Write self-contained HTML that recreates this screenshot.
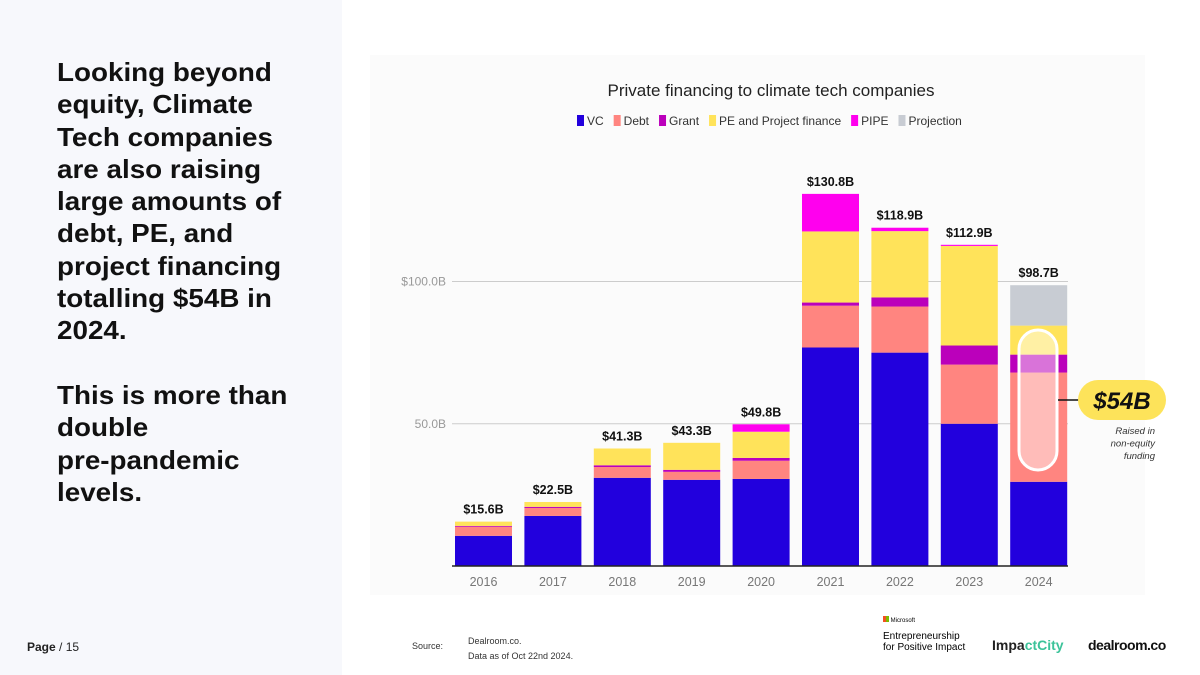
<!DOCTYPE html>
<html><head><meta charset="utf-8"><style>
body{margin:0;width:1200px;height:675px;overflow:hidden;background:#fff;font-family:"Liberation Sans",sans-serif;position:relative}
#left{position:absolute;left:0;top:0;width:342px;height:675px;background:#f7f8fc}
#headline{position:absolute;left:57px;top:56px;font-size:26px;font-weight:bold;line-height:32.3px;color:#111;width:300px;white-space:nowrap;transform:scaleX(1.07);transform-origin:0 0}
#page{position:absolute;left:27px;top:640px;font-size:12px;color:#222}
#panel{position:absolute;left:370px;top:55px;width:775px;height:540px;background:#fbfbfb}
#src{position:absolute;left:412px;top:641px;font-size:9px;color:#333}
#srcv{position:absolute;left:468px;top:634px;font-size:9px;color:#333;line-height:15px}
.logo{position:absolute;font-weight:bold}
</style></head><body>
<div id="left"></div>
<div id="headline">Looking beyond<br>equity, Climate<br>Tech companies<br>are also raising<br>large amounts of<br>debt, PE, and<br>project financing<br>totalling $54B in<br>2024.<br><br>This is more than<br>double<br>pre-pandemic<br>levels.</div>
<div id="page"><b>Page</b> / 15</div>
<div id="panel"></div>
<svg id="chart" width="1200" height="675" style="position:absolute;left:0;top:0"></svg>
<div id="src">Source:</div>
<div id="srcv">Dealroom.co.<br>Data as of Oct 22nd 2024.</div>
<div class="logo" style="left:883px;top:616px;font-size:6px;font-weight:normal"><span style="display:inline-block;width:6px;height:6px;background:linear-gradient(90deg,#f25022 50%,#7fba00 50%)"></span> Microsoft</div>
<div class="logo" style="left:883px;top:631px;font-size:10px;font-weight:normal;line-height:11px">Entrepreneurship<br>for Positive Impact</div>
<div class="logo" style="left:992px;top:637px;font-size:14px;color:#222">Impa<span style="color:#3cc39a">ctCity</span></div>
<div class="logo" style="left:1088px;top:637px;font-size:14px;color:#111;letter-spacing:-0.5px">dealroom.co</div>
<script>
const years=["2016","2017","2018","2019","2020","2021","2022","2023","2024"];
const vc=[10.6,17.6,31,30.3,30.6,76.8,75,50,29.6];
const debt=[3.2,2.8,3.8,2.8,6.4,14.7,16.2,20.8,38.4];
const grant=[0.3,0.4,0.6,0.7,1.0,1.1,3.2,6.7,6.3];
const pe=[1.5,1.7,5.9,9.5,9.2,25,23.3,35,10.2];
const pipe=[0,0,0,0,2.6,13.2,1.2,0.4,0];
const projection=[0,0,0,0,0,0,0,0,14.2];
const totals=["$15.6B","$22.5B","$41.3B","$43.3B","$49.8B","$130.8B","$118.9B","$112.9B","$98.7B"];
const ticks=[50,100];
const tickLabels=["50.0B","$100.0B"];
const series=[["VC",vc,"#2200dd"],["Debt",debt,"#ff8580"],["Grant",grant,"#bb00bb"],["PE and Project finance",pe,"#ffe35a"],["PIPE",pipe,"#ff00ee"],["Projection",projection,"#c8ccd3"]];
const NS="http://www.w3.org/2000/svg",svg=document.getElementById('chart');
const y0=566,k=2.845,x0=455,step=69.4,bw=57;
const Y=v=>y0-v*k, X=i=>x0+i*step;
function mk(t,a,txt){const e=document.createElementNS(NS,t);for(const q in a)e.setAttribute(q,a[q]);if(txt!==undefined)e.textContent=txt;svg.appendChild(e);return e;}
let e=mk('text',{x:771,y:96,'text-anchor':'middle','font-size':17,fill:'#222'},'Private financing to climate tech companies');


let lx=577;
series.forEach(s=>{
 let r=mk('rect',{x:lx,y:115,width:7,height:11,fill:s[2]});
 
 
 let t=mk('text',{x:lx+10,y:125,'font-size':12,fill:'#333'},s[0]);
 
 
 lx+=10+t.getComputedTextLength()+10;
});
ticks.forEach((tv,i)=>{
 let l=mk('line',{x1:452,x2:1068,y1:Y(tv),y2:Y(tv),stroke:'#ccc','stroke-width':1});
 
 
 let t=mk('text',{x:446,y:Y(tv)+4,'text-anchor':'end','font-size':12,fill:'#999'},tickLabels[i]);
 
 
});
years.forEach((yr,i)=>{
 let acc=0;
 series.forEach(s=>{const v=s[1][i];if(v>0){
  let r=mk('rect',{x:X(i),y:Y(acc+v),width:bw,height:v*k,fill:s[2]});
  
  
  acc+=v;}});
 let t=mk('text',{x:X(i)+bw/2,y:Y(acc)-8,'text-anchor':'middle','font-size':12.5,'font-weight':'bold',fill:'#111'},totals[i]);
 
 
 let xl=mk('text',{x:X(i)+bw/2,y:586,'text-anchor':'middle','font-size':12.5,fill:'#777'},yr);
 
 
});
let ax=mk('line',{x1:452,x2:1068,y1:y0,y2:y0,stroke:'#222','stroke-width':1.5});


let cap=mk('rect',{x:1019,y:330,width:38,height:140,rx:19,fill:'rgba(255,255,255,0.45)',stroke:'#fff','stroke-width':3});


mk('line',{x1:1058,x2:1080,y1:400,y2:400,stroke:'#111','stroke-width':1.5});
let pill=mk('rect',{x:1078,y:380,width:88,height:40,rx:20,fill:'#fde35a'});


let ct=mk('text',{x:1122,y:409,'text-anchor':'middle','font-size':24,'font-weight':'bold','font-style':'italic',fill:'#111'},'$54B');


["Raised in","non-equity","funding"].forEach((s,i)=>{
 let t=mk('text',{x:1155,y:434+i*12.5,'text-anchor':'end','font-size':9.5,'font-style':'italic',fill:'#333'},s);
 
 
});
</script>
</body></html>
